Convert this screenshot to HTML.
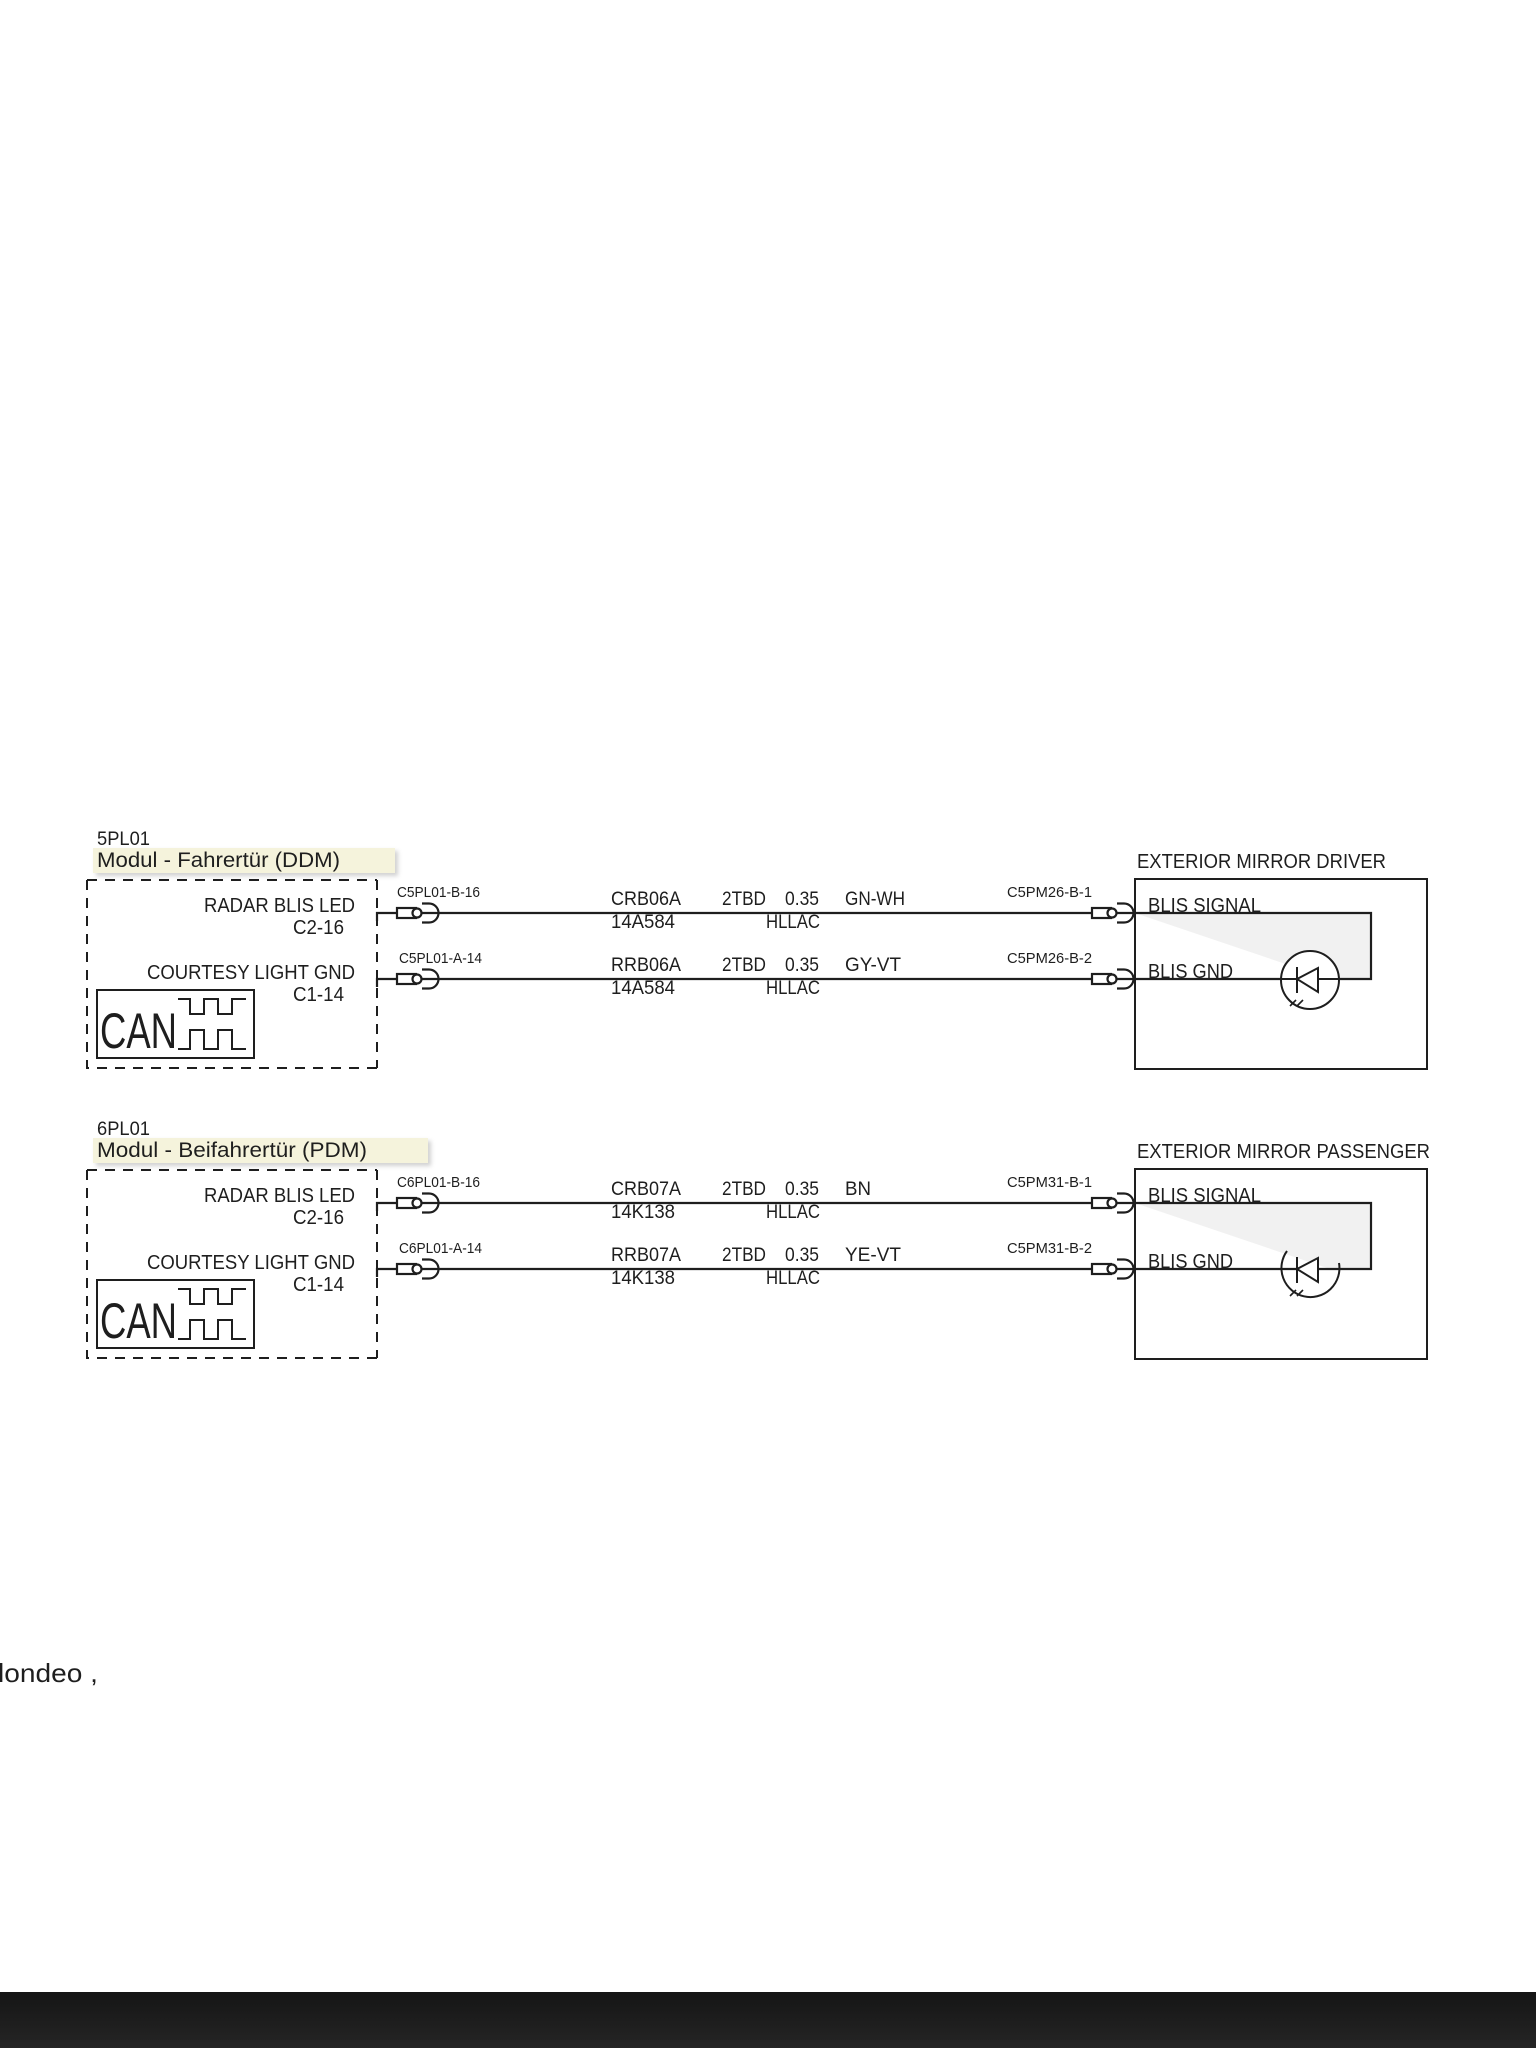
<!DOCTYPE html>
<html><head><meta charset="utf-8"><style>
html,body{margin:0;padding:0;background:#fff;}
svg{display:block;}
text{font-family:"Liberation Sans",Arial,sans-serif;fill:#1e1e1e;}
</style></head><body>
<svg width="1536" height="2048" viewBox="0 0 1536 2048" xmlns="http://www.w3.org/2000/svg">
<defs>
<filter id="sh" x="-5%" y="-20%" width="115%" height="160%"><feDropShadow dx="3" dy="3" stdDeviation="2" flood-color="#000" flood-opacity="0.18"/></filter>
<g id="conn" fill="none" stroke="#1e1e1e" stroke-width="2.2">
  <rect x="0" y="-5" width="19" height="10" fill="#fff"/>
  <circle cx="20" cy="0" r="4.5" fill="#fff"/>
  <path d="M25,-9.5 H32 A9.5,9.5 0 0 1 32,9.5 H25"/>
</g>
<g id="sec">
  <path d="M87,880 H377 M87,880 V1068 H377 M377,880 V1068" fill="none" stroke="#1e1e1e" stroke-width="2" stroke-dasharray="10,8"/>
  <rect x="97" y="990" width="157" height="68" fill="none" stroke="#1e1e1e" stroke-width="2"/>
  <text x="100" y="1048" font-size="50" textLength="77" lengthAdjust="spacingAndGlyphs">CAN</text>
  <path d="M178,999 H190 V1014 H204 V999 H218 V1014 H232 V999 H246" fill="none" stroke="#1e1e1e" stroke-width="2"/>
  <path d="M178,1049 H190 V1030 H204 V1049 H218 V1030 H232 V1049 H246" fill="none" stroke="#1e1e1e" stroke-width="2"/>
  <text x="355" y="912" font-size="20" text-anchor="end" textLength="151" lengthAdjust="spacingAndGlyphs">RADAR BLIS LED</text>
  <text x="344" y="934" font-size="20" text-anchor="end" textLength="51" lengthAdjust="spacingAndGlyphs">C2-16</text>
  <text x="355" y="979" font-size="20" text-anchor="end" textLength="208" lengthAdjust="spacingAndGlyphs">COURTESY LIGHT GND</text>
  <text x="344" y="1001" font-size="20" text-anchor="end" textLength="51" lengthAdjust="spacingAndGlyphs">C1-14</text>
  <path d="M377,921 V913 H1135 M377,987 V979 H1135" fill="none" stroke="#1e1e1e" stroke-width="2.2"/>
  <use href="#conn" x="397" y="913"/>
  <use href="#conn" x="397" y="979"/>
  <use href="#conn" x="1092" y="913"/>
  <use href="#conn" x="1092" y="979"/>
  <rect x="1135" y="879" width="292" height="190" fill="none" stroke="#1e1e1e" stroke-width="2"/>
  <polygon points="1135,913 1371,913 1371,979 1330,979" fill="#f1f1f1"/>
  <path d="M1135,913 H1371 V979 H1135" fill="none" stroke="#1e1e1e" stroke-width="2.2"/>
  <text x="1148" y="912" font-size="20" textLength="113" lengthAdjust="spacingAndGlyphs">BLIS SIGNAL</text>
  <text x="1148" y="978" font-size="20" textLength="85" lengthAdjust="spacingAndGlyphs">BLIS GND</text>
</g>
</defs>

<rect x="93" y="848" width="302" height="25" fill="#f5f3dc" filter="url(#sh)"/>
<text x="97" y="845" font-size="19" textLength="53" lengthAdjust="spacingAndGlyphs">5PL01</text>
<text x="97" y="867" font-size="21" textLength="243" lengthAdjust="spacingAndGlyphs">Modul - Fahrertür (DDM)</text>
<use href="#sec"/>
<g fill="none" stroke="#1e1e1e" stroke-width="2">
  <circle cx="1310" cy="980" r="29" fill="#fff"/>
  <path d="M1281,979 H1339"/>
  <polygon points="1297,979 1318,968 1318,992" fill="#fff"/>
  <path d="M1297,967 V993"/>
  <path d="M1296,1000 L1290,1006 M1303,1000 L1297,1006" stroke-width="1.6"/>
</g>
<text x="1137" y="868" font-size="20" textLength="249" lengthAdjust="spacingAndGlyphs">EXTERIOR MIRROR DRIVER</text>
<text x="397" y="897" font-size="15" textLength="83" lengthAdjust="spacingAndGlyphs">C5PL01-B-16</text>
<text x="399" y="963" font-size="15" textLength="83" lengthAdjust="spacingAndGlyphs">C5PL01-A-14</text>
<text x="1007" y="897" font-size="15" textLength="85" lengthAdjust="spacingAndGlyphs">C5PM26-B-1</text>
<text x="1007" y="963" font-size="15" textLength="85" lengthAdjust="spacingAndGlyphs">C5PM26-B-2</text>
<g font-size="19">
<text x="611" y="905" textLength="70" lengthAdjust="spacingAndGlyphs">CRB06A</text>
<text x="611" y="928" textLength="64" lengthAdjust="spacingAndGlyphs">14A584</text>
<text x="722" y="905" textLength="44" lengthAdjust="spacingAndGlyphs">2TBD</text>
<text x="785" y="905" textLength="34" lengthAdjust="spacingAndGlyphs">0.35</text>
<text x="766" y="928" textLength="54" lengthAdjust="spacingAndGlyphs">HLLAC</text>
<text x="845" y="905" textLength="60" lengthAdjust="spacingAndGlyphs">GN-WH</text>
<text x="611" y="971" textLength="70" lengthAdjust="spacingAndGlyphs">RRB06A</text>
<text x="611" y="994" textLength="64" lengthAdjust="spacingAndGlyphs">14A584</text>
<text x="722" y="971" textLength="44" lengthAdjust="spacingAndGlyphs">2TBD</text>
<text x="785" y="971" textLength="34" lengthAdjust="spacingAndGlyphs">0.35</text>
<text x="766" y="994" textLength="54" lengthAdjust="spacingAndGlyphs">HLLAC</text>
<text x="845" y="971" textLength="56" lengthAdjust="spacingAndGlyphs">GY-VT</text>
</g>

<rect x="93" y="1138" width="335" height="25" fill="#f5f3dc" filter="url(#sh)"/>
<text x="97" y="1135" font-size="19" textLength="53" lengthAdjust="spacingAndGlyphs">6PL01</text>
<text x="97" y="1157" font-size="21" textLength="270" lengthAdjust="spacingAndGlyphs">Modul - Beifahrertür (PDM)</text>
<use href="#sec" y="290"/>
<g fill="none" stroke="#1e1e1e" stroke-width="2">
  <path d="M1287,1251 A29,29 0 1 0 1339,1263"/>
  <path d="M1281,1269 H1339"/>
  <polygon points="1297,1269 1318,1258 1318,1282" fill="#fff"/>
  <path d="M1297,1257 V1283"/>
  <path d="M1296,1290 L1290,1296 M1303,1290 L1297,1296" stroke-width="1.6"/>
</g>
<text x="1137" y="1158" font-size="20" textLength="293" lengthAdjust="spacingAndGlyphs">EXTERIOR MIRROR PASSENGER</text>
<text x="397" y="1187" font-size="15" textLength="83" lengthAdjust="spacingAndGlyphs">C6PL01-B-16</text>
<text x="399" y="1253" font-size="15" textLength="83" lengthAdjust="spacingAndGlyphs">C6PL01-A-14</text>
<text x="1007" y="1187" font-size="15" textLength="85" lengthAdjust="spacingAndGlyphs">C5PM31-B-1</text>
<text x="1007" y="1253" font-size="15" textLength="85" lengthAdjust="spacingAndGlyphs">C5PM31-B-2</text>
<g font-size="19">
<text x="611" y="1195" textLength="70" lengthAdjust="spacingAndGlyphs">CRB07A</text>
<text x="611" y="1218" textLength="64" lengthAdjust="spacingAndGlyphs">14K138</text>
<text x="722" y="1195" textLength="44" lengthAdjust="spacingAndGlyphs">2TBD</text>
<text x="785" y="1195" textLength="34" lengthAdjust="spacingAndGlyphs">0.35</text>
<text x="766" y="1218" textLength="54" lengthAdjust="spacingAndGlyphs">HLLAC</text>
<text x="845" y="1195" textLength="26" lengthAdjust="spacingAndGlyphs">BN</text>
<text x="611" y="1261" textLength="70" lengthAdjust="spacingAndGlyphs">RRB07A</text>
<text x="611" y="1284" textLength="64" lengthAdjust="spacingAndGlyphs">14K138</text>
<text x="722" y="1261" textLength="44" lengthAdjust="spacingAndGlyphs">2TBD</text>
<text x="785" y="1261" textLength="34" lengthAdjust="spacingAndGlyphs">0.35</text>
<text x="766" y="1284" textLength="54" lengthAdjust="spacingAndGlyphs">HLLAC</text>
<text x="845" y="1261" textLength="56" lengthAdjust="spacingAndGlyphs">YE-VT</text>
</g>

<text x="-2" y="1682" font-size="26" fill="#222" textLength="100" lengthAdjust="spacingAndGlyphs">londeo ,</text>

<defs><linearGradient id="bar" x1="0" y1="0" x2="0" y2="1"><stop offset="0" stop-color="#151515"/><stop offset="1" stop-color="#252525"/></linearGradient></defs>
<rect x="0" y="1992" width="1536" height="56" fill="url(#bar)"/>
</svg>
</body></html>
